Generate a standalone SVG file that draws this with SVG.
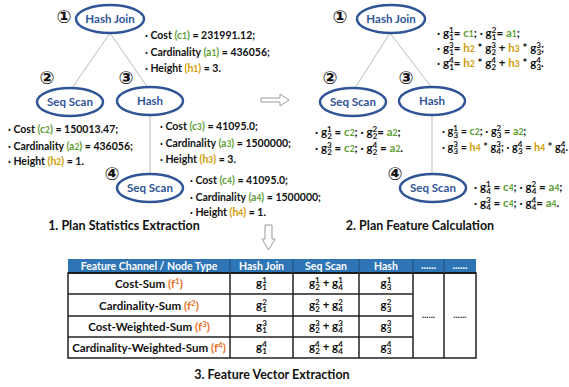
<svg xmlns="http://www.w3.org/2000/svg" width="569" height="387" viewBox="0 0 569 387">
<style>
text{font-family:"Lato","Liberation Sans",sans-serif;font-weight:bold;fill:#111}
.nd{fill:#fff;stroke:#2F5597;stroke-width:2.5}
.nt{fill:#2F5597;font-size:11.5px;text-anchor:middle}
.num{font-family:"DejaVu Sans",sans-serif;font-size:18px;text-anchor:middle}
.st{font-size:10.5px}
.fm{font-size:11.5px}
.fm2{font-size:10.8px}
.gr{fill:#5E9E34}
.go{fill:#CF9B00}
.or{fill:#E8701F}
.sb{font-size:8.5px}
.sp{font-size:8px}
.ttl{font-size:12.5px;text-anchor:middle}
.edge{stroke:#BBBBBB;stroke-width:1;fill:none}
.arw{fill:#fff;stroke:#9A9A9A;stroke-width:1}
.th{fill:#fff;font-size:10.5px;text-anchor:middle}
.td{font-size:11.5px;text-anchor:middle}
</style>

<g id="connectors">
<line class="edge" x1="110" y1="33" x2="72" y2="88"/>
<line class="edge" x1="110" y1="33" x2="148" y2="88"/>
<line class="edge" x1="150" y1="115" x2="150" y2="174"/>
<line class="edge" x1="390" y1="33" x2="355" y2="88"/>
<line class="edge" x1="390" y1="33" x2="432" y2="88"/>
<line class="edge" x1="432" y1="115" x2="432" y2="174"/>
<polygon class="arw" points="261,98 280,98 280,94 289,100 280,106 280,102 261,102"/>
<polygon class="arw" points="265,225 272,225 272,239 275,239 268.5,250 262,239 265,239"/>
</g>

<!-- Left tree -->
<g id="L1">
<text class="num" x="64" y="23">①</text>
<ellipse class="nd" cx="110" cy="19" rx="34" ry="14"/>
<text class="nt" x="110" y="23">Hash Join</text>
</g>
<g id="L2">
<text class="num" x="47" y="84">②</text>
<ellipse class="nd" cx="70" cy="102" rx="33" ry="14"/>
<text class="nt" x="70" y="106">Seq Scan</text>
</g>
<g id="L3">
<text class="num" x="126" y="84">③</text>
<ellipse class="nd" cx="150" cy="101" rx="33" ry="14"/>
<text class="nt" x="150" y="105">Hash</text>
</g>
<g id="L4">
<text class="num" x="112" y="180">④</text>
<ellipse class="nd" cx="150" cy="188" rx="33" ry="14"/>
<text class="nt" x="150" y="192">Seq Scan</text>
</g>

<g id="stats1">
<text class="st" x="145" y="39">· Cost <tspan class="gr">(c<tspan class="sb">1</tspan>)</tspan> = 231991.12;</text>
<text class="st" x="145" y="56">· Cardinality <tspan class="gr">(a<tspan class="sb">1</tspan>)</tspan> = 436056;</text>
<text class="st" x="145" y="72">· Height <tspan class="go">(h<tspan class="sb">1</tspan>)</tspan> = 3.</text>
</g>
<g id="stats2">
<text class="st" x="8" y="133">· Cost <tspan class="gr">(c<tspan class="sb">2</tspan>)</tspan> = 150013.47;</text>
<text class="st" x="8" y="150">· Cardinality <tspan class="gr">(a<tspan class="sb">2</tspan>)</tspan> = 436056;</text>
<text class="st" x="8" y="165">· Height <tspan class="go">(h<tspan class="sb">2</tspan>)</tspan> = 1.</text>
</g>
<g id="stats3">
<text class="st" x="160" y="130">· Cost <tspan class="gr">(c<tspan class="sb">3</tspan>)</tspan> = 41095.0;</text>
<text class="st" x="160" y="147">· Cardinality <tspan class="gr">(a<tspan class="sb">3</tspan>)</tspan> = 1500000;</text>
<text class="st" x="160" y="163">· Height <tspan class="go">(h<tspan class="sb">3</tspan>)</tspan> = 3.</text>
</g>
<g id="stats4">
<text class="st" x="190" y="184">· Cost <tspan class="gr">(c<tspan class="sb">4</tspan>)</tspan> = 41095.0;</text>
<text class="st" x="190" y="201">· Cardinality <tspan class="gr">(a<tspan class="sb">4</tspan>)</tspan> = 1500000;</text>
<text class="st" x="190" y="216">· Height <tspan class="go">(h<tspan class="sb">4</tspan>)</tspan> = 1.</text>
</g>
<text class="ttl" x="124" y="230">1. Plan Statistics Extraction</text>

<!-- Right tree -->
<g id="R1">
<text class="num" x="340" y="23">①</text>
<ellipse class="nd" cx="391" cy="19" rx="34" ry="14"/>
<text class="nt" x="391" y="23">Hash Join</text>
</g>
<g id="R2">
<text class="num" x="330" y="84">②</text>
<ellipse class="nd" cx="353" cy="102" rx="33" ry="14"/>
<text class="nt" x="353" y="106">Seq Scan</text>
</g>
<g id="R3">
<text class="num" x="406" y="84">③</text>
<ellipse class="nd" cx="432" cy="101" rx="33" ry="14"/>
<text class="nt" x="432" y="105">Hash</text>
</g>
<g id="R4">
<text class="num" x="395" y="180">④</text>
<ellipse class="nd" cx="433" cy="188" rx="33" ry="14"/>
<text class="nt" x="433" y="192">Seq Scan</text>
</g>

<g id="feat1">
<text class="fm" x="437" y="37">· g<tspan class="sp" dy="-4">1</tspan><tspan class="sp" dx="-4.5" dy="7">1</tspan><tspan dy="-3">= </tspan><tspan class="gr">c<tspan class="sb">1</tspan></tspan>;  · g<tspan class="sp" dy="-4">2</tspan><tspan class="sp" dx="-4.5" dy="7">1</tspan><tspan dy="-3">= </tspan><tspan class="gr">a<tspan class="sb">1</tspan></tspan>;</text>
<text class="fm" x="437" y="52">· g<tspan class="sp" dy="-4">3</tspan><tspan class="sp" dx="-4.5" dy="7">1</tspan><tspan dy="-3">= </tspan><tspan class="go">h<tspan class="sb">2</tspan></tspan> * g<tspan class="sp" dy="-4">3</tspan><tspan class="sp" dx="-4.5" dy="7">2</tspan><tspan dy="-3"> + </tspan><tspan class="go">h<tspan class="sb">3</tspan></tspan> * g<tspan class="sp" dy="-4">3</tspan><tspan class="sp" dx="-4.5" dy="7">3</tspan><tspan dy="-3">;</tspan></text>
<text class="fm" x="437" y="67">· g<tspan class="sp" dy="-4">4</tspan><tspan class="sp" dx="-4.5" dy="7">1</tspan><tspan dy="-3">= </tspan><tspan class="go">h<tspan class="sb">2</tspan></tspan> * g<tspan class="sp" dy="-4">4</tspan><tspan class="sp" dx="-4.5" dy="7">2</tspan><tspan dy="-3"> + </tspan><tspan class="go">h<tspan class="sb">3</tspan></tspan> * g<tspan class="sp" dy="-4">4</tspan><tspan class="sp" dx="-4.5" dy="7">3</tspan><tspan dy="-3">.</tspan></text>
</g>
<g id="feat2">
<text class="fm" x="315" y="136">· g<tspan class="sp" dy="-4">1</tspan><tspan class="sp" dx="-4.5" dy="7">2</tspan><tspan dy="-3"> = </tspan><tspan class="gr">c<tspan class="sb">2</tspan></tspan>; · g<tspan class="sp" dy="-4">2</tspan><tspan class="sp" dx="-4.5" dy="7">2</tspan><tspan dy="-3">= </tspan><tspan class="gr">a<tspan class="sb">2</tspan></tspan>;</text>
<text class="fm" x="315" y="152">· g<tspan class="sp" dy="-4">3</tspan><tspan class="sp" dx="-4.5" dy="7">2</tspan><tspan dy="-3"> = </tspan><tspan class="gr">c<tspan class="sb">2</tspan></tspan>; · g<tspan class="sp" dy="-4">4</tspan><tspan class="sp" dx="-4.5" dy="7">2</tspan><tspan dy="-3"> = </tspan><tspan class="gr">a<tspan class="sb">2</tspan></tspan>.</text>
</g>
<g id="feat3">
<text class="fm2" x="442" y="135">· g<tspan class="sp" dy="-4">1</tspan><tspan class="sp" dx="-4.5" dy="7">3</tspan><tspan dy="-3"> = </tspan><tspan class="gr">c<tspan class="sb">2</tspan></tspan>;  · g<tspan class="sp" dy="-4">2</tspan><tspan class="sp" dx="-4.5" dy="7">3</tspan><tspan dy="-3"> = </tspan><tspan class="gr">a<tspan class="sb">2</tspan></tspan>;</text>
<text class="fm2" x="442" y="151">· g<tspan class="sp" dy="-4">3</tspan><tspan class="sp" dx="-4.5" dy="7">3</tspan><tspan dy="-3"> = </tspan><tspan class="go">h<tspan class="sb">4</tspan></tspan> * g<tspan class="sp" dy="-4">3</tspan><tspan class="sp" dx="-4.5" dy="7">4</tspan><tspan dy="-3">; · g</tspan><tspan class="sp" dy="-4">4</tspan><tspan class="sp" dx="-4.5" dy="7">3</tspan><tspan dy="-3"> = </tspan><tspan class="go">h<tspan class="sb">4</tspan></tspan> * g<tspan class="sp" dy="-4">4</tspan><tspan class="sp" dx="-4.5" dy="7">4</tspan><tspan dy="-3">.</tspan></text>
</g>
<g id="feat4">
<text class="fm" x="474" y="191">· g<tspan class="sp" dy="-4">1</tspan><tspan class="sp" dx="-4.5" dy="7">4</tspan><tspan dy="-3"> = </tspan><tspan class="gr">c<tspan class="sb">4</tspan></tspan>; · g<tspan class="sp" dy="-4">2</tspan><tspan class="sp" dx="-4.5" dy="7">4</tspan><tspan dy="-3"> = </tspan><tspan class="gr">a<tspan class="sb">4</tspan></tspan>;</text>
<text class="fm" x="474" y="207">· g<tspan class="sp" dy="-4">3</tspan><tspan class="sp" dx="-4.5" dy="7">4</tspan><tspan dy="-3"> = </tspan><tspan class="gr">c<tspan class="sb">4</tspan></tspan>; · g<tspan class="sp" dy="-4">4</tspan><tspan class="sp" dx="-4.5" dy="7">4</tspan><tspan dy="-3">= </tspan><tspan class="gr">a<tspan class="sb">4</tspan></tspan>.</text>
</g>
<text class="ttl" x="420" y="230">2. Plan Feature Calculation</text>

<!-- Table -->
<g id="table">
<rect x="68" y="259" width="408" height="14" fill="#2E75B6"/>
<line x1="68" y1="273" x2="476" y2="273" stroke="#111" stroke-width="2"/>
<g stroke="#222" stroke-width="1.5" fill="none">
<rect x="68" y="273" width="408" height="85"/>
<line x1="68" y1="294" x2="413" y2="294"/>
<line x1="68" y1="316" x2="413" y2="316"/>
<line x1="68" y1="337" x2="413" y2="337"/>
<line x1="230" y1="273" x2="230" y2="358"/>
<line x1="293" y1="273" x2="293" y2="358"/>
<line x1="359" y1="273" x2="359" y2="358"/>
<line x1="413" y1="273" x2="413" y2="358"/>
<line x1="444" y1="273" x2="444" y2="358"/>
</g>
<g stroke="#1F4E79" stroke-width="1">
<line x1="230" y1="259" x2="230" y2="273"/>
<line x1="293" y1="259" x2="293" y2="273"/>
<line x1="359" y1="259" x2="359" y2="273"/>
<line x1="413" y1="259" x2="413" y2="273"/>
<line x1="444" y1="259" x2="444" y2="273"/>
</g>
<text class="th" x="149" y="270">Feature Channel / Node Type</text>
<text class="th" x="261.5" y="270">Hash Join</text>
<text class="th" x="326" y="270">Seq Scan</text>
<text class="th" x="386" y="270">Hash</text>
<text class="th" x="428.5" y="268.5">......</text>
<text class="th" x="460" y="268.5">......</text>

<text class="td" x="149" y="288">Cost-Sum <tspan class="or">(f<tspan class="sp" dy="-4">1</tspan><tspan dy="4">)</tspan></tspan></text>
<text class="td" x="149" y="309.5">Cardinality-Sum <tspan class="or">(f<tspan class="sp" dy="-4">2</tspan><tspan dy="4">)</tspan></tspan></text>
<text class="td" x="149" y="331">Cost-Weighted-Sum <tspan class="or">(f<tspan class="sp" dy="-4">3</tspan><tspan dy="4">)</tspan></tspan></text>
<text class="td" x="149" y="352">Cardinality-Weighted-Sum <tspan class="or">(f<tspan class="sp" dy="-4">4</tspan><tspan dy="4">)</tspan></tspan></text>

<text class="td" x="261.5" y="287">g<tspan class="sp" dy="-4">1</tspan><tspan class="sp" dx="-4.5" dy="7">1</tspan></text>
<text class="td" x="261.5" y="308.5">g<tspan class="sp" dy="-4">2</tspan><tspan class="sp" dx="-4.5" dy="7">1</tspan></text>
<text class="td" x="261.5" y="330">g<tspan class="sp" dy="-4">3</tspan><tspan class="sp" dx="-4.5" dy="7">1</tspan></text>
<text class="td" x="261.5" y="351">g<tspan class="sp" dy="-4">4</tspan><tspan class="sp" dx="-4.5" dy="7">1</tspan></text>

<text class="td" x="326" y="287">g<tspan class="sp" dy="-4">1</tspan><tspan class="sp" dx="-4.5" dy="7">2</tspan><tspan dy="-3"> + g</tspan><tspan class="sp" dy="-4">1</tspan><tspan class="sp" dx="-4.5" dy="7">4</tspan></text>
<text class="td" x="326" y="308.5">g<tspan class="sp" dy="-4">2</tspan><tspan class="sp" dx="-4.5" dy="7">2</tspan><tspan dy="-3"> + g</tspan><tspan class="sp" dy="-4">2</tspan><tspan class="sp" dx="-4.5" dy="7">4</tspan></text>
<text class="td" x="326" y="330">g<tspan class="sp" dy="-4">3</tspan><tspan class="sp" dx="-4.5" dy="7">2</tspan><tspan dy="-3"> + g</tspan><tspan class="sp" dy="-4">3</tspan><tspan class="sp" dx="-4.5" dy="7">4</tspan></text>
<text class="td" x="326" y="351">g<tspan class="sp" dy="-4">4</tspan><tspan class="sp" dx="-4.5" dy="7">2</tspan><tspan dy="-3"> + g</tspan><tspan class="sp" dy="-4">4</tspan><tspan class="sp" dx="-4.5" dy="7">4</tspan></text>

<text class="td" x="386" y="287">g<tspan class="sp" dy="-4">1</tspan><tspan class="sp" dx="-4.5" dy="7">3</tspan></text>
<text class="td" x="386" y="308.5">g<tspan class="sp" dy="-4">2</tspan><tspan class="sp" dx="-4.5" dy="7">3</tspan></text>
<text class="td" x="386" y="330">g<tspan class="sp" dy="-4">3</tspan><tspan class="sp" dx="-4.5" dy="7">3</tspan></text>
<text class="td" x="386" y="351">g<tspan class="sp" dy="-4">4</tspan><tspan class="sp" dx="-4.5" dy="7">3</tspan></text>

<text class="td" x="428.5" y="318" style="font-size:9px">......</text>
<text class="td" x="460" y="318" style="font-size:9px">......</text>
</g>
<text class="ttl" x="272" y="379">3. Feature Vector Extraction</text>
</svg>
